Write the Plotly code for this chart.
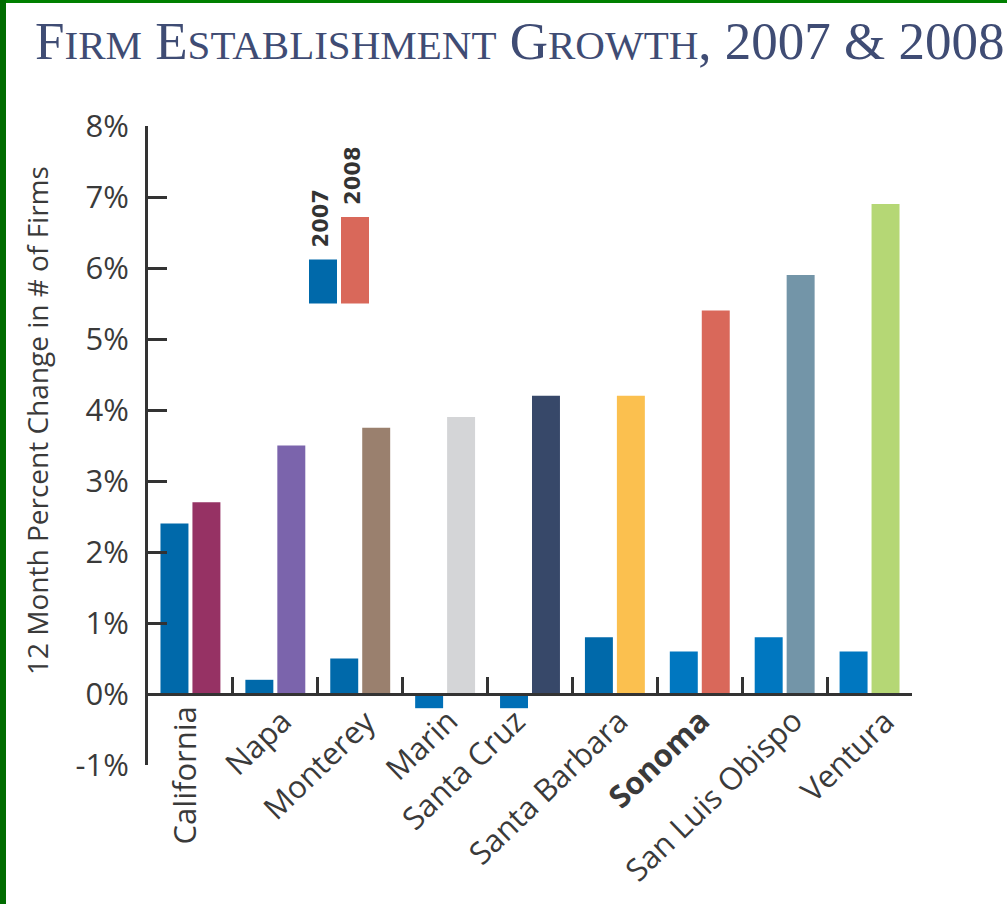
import plotly.graph_objects as go

# ---------------- data ----------------
counties = ["California", "Napa", "Monterey", "Marin", "Santa Cruz",
            "Santa Barbara", "Sonoma", "San Luis Obispo", "Ventura"]
growth_2007 = [2.4, 0.2, 0.5, -0.2, -0.2, 0.8, 0.6, 0.8, 0.6]
growth_2008 = [2.7, 3.5, 3.75, 3.9, 4.2, 4.2, 5.4, 5.9, 6.9]
colors_2007 = ["#0069aa", "#0069aa", "#0069aa", "#006fb6", "#006fb6",
               "#0069aa", "#0077c0", "#0077c0", "#0077c0"]
colors_2008 = ["#963264", "#7b64ac", "#9a806e", "#d4d5d7", "#374869",
               "#fbc04f", "#d9685a", "#7395a8", "#b5d775"]
y_ticks = [-1, 0, 1, 2, 3, 4, 5, 6, 7, 8]
y_ticktext = [f"{v}%" for v in y_ticks]
legend_years = ["2007", "2008"]
legend_values = [6.12, 6.72]      # swatch tops (key, not data)
legend_base = 5.5
title_text = "Firm Establishment Growth, 2007 & 2008"
y_title = "12 Month Percent Change in # of Firms"

# ---------------- layout constants ----------------
W, H = 1007, 904
ML, MR, MT, MB = 148, 95, 126, 139
PW, PH = W - ML - MR, H - MT - MB
TXT = "#3a3a3a"
AX = "#333333"
# small per-label nudges of the slanted category labels (pixels)
label_nudge = {"Napa": -3, "Monterey": -4, "Marin": -6, "Santa Cruz": -24,
               "Santa Barbara": -5, "Sonoma": -9, "San Luis Obispo": -2, "Ventura": 6}


def px_to_paper_x(px):
    return (px - ML) / PW


def px_to_paper_y(py):
    return (H - MB - py) / PH


def small_caps(s, small=41):
    out = []
    for ch in s:
        if ch.islower():
            out.append(f'<span style="font-size:{small}px">{ch.upper()}</span>')
        else:
            out.append(ch)
    return "".join(out)


fig = go.Figure()
fig.add_trace(go.Bar(x=counties, y=growth_2007, name="2007",
                     marker=dict(color=colors_2007, line=dict(width=0))))
fig.add_trace(go.Bar(x=counties, y=growth_2008, name="2008",
                     marker=dict(color=colors_2008, line=dict(width=0))))

annotations = []
# x category labels
for i, c in enumerate(counties):
    label = f"<b>{c}</b>" if c == "Sonoma" else c
    if i == 0:
        annotations.append(dict(x=c, y=0, xref="x", yref="y", text=label,
                                textangle=-90, xanchor="center", yanchor="top",
                                xshift=-6, yshift=-10, showarrow=False,
                                font=dict(family="Open Sans", size=31, color=TXT)))
    else:
        annotations.append(dict(x=c, y=0, xref="x", yref="y", text=label,
                                textangle=-44, xanchor="right", yanchor="top",
                                xshift=30 + label_nudge.get(c, 0), yshift=-3, showarrow=False,
                                font=dict(family="Open Sans", size=31, color=TXT)))

# y title
annotations.append(dict(x=px_to_paper_x(37), y=px_to_paper_y(421), xref="paper", yref="paper",
                        text=y_title, textangle=-90, showarrow=False,
                        xanchor="center", yanchor="middle",
                        font=dict(family="Open Sans", size=28, color=TXT)))

# legend key
key_x = [(309, 337), (341, 369)]
key_cols = ["#0069aa", "#d9685a"]
shapes = []
for (x0, x1), top, col, yr in zip(key_x, legend_values, key_cols, legend_years):
    shapes.append(dict(type="rect", xref="paper", yref="y",
                       x0=px_to_paper_x(x0), x1=px_to_paper_x(x1),
                       y0=legend_base, y1=top, fillcolor=col, line=dict(width=0)))
    annotations.append(dict(x=px_to_paper_x((x0 + x1) / 2 - 2), y=top, xref="paper", yref="y",
                            text=f"<b>{yr}</b>", textangle=-90, showarrow=False,
                            xanchor="center", yanchor="bottom", yshift=10,
                            font=dict(family="DejaVu Sans", size=21, color="#333333")))

# green frame (top and left)
shapes.append(dict(type="rect", xref="paper", yref="paper", layer="above",
                   x0=px_to_paper_x(0), x1=px_to_paper_x(W), y0=px_to_paper_y(3), y1=px_to_paper_y(0),
                   fillcolor="#008000", line=dict(width=0)))
shapes.append(dict(type="rect", xref="paper", yref="paper", layer="above",
                   x0=px_to_paper_x(0), x1=px_to_paper_x(6), y0=px_to_paper_y(H), y1=px_to_paper_y(0),
                   fillcolor="#006c00", line=dict(width=0)))

fig.update_layout(
    width=W, height=H,
    margin=dict(l=ML, r=MR, t=MT, b=MB, pad=0),
    paper_bgcolor="white", plot_bgcolor="white",
    showlegend=False,
    barmode="group", bargap=0.247, bargroupgap=0.125,
    title=dict(text=small_caps(title_text), xref="container", yref="container",
               x=35 / W, xanchor="left", y=1 - 40 / H, yanchor="middle",
               font=dict(family="Liberation Serif", size=53, color="#3f4c74")),
    annotations=annotations,
    shapes=shapes,
    xaxis=dict(type="category", range=[-0.5, len(counties) - 0.5],
               anchor="free", position=1 / 9,
               showline=True, linecolor=AX, linewidth=3,
               ticks="inside", tickson="boundaries", ticklen=16, tickwidth=3, tickcolor=AX,
               showticklabels=False, showgrid=False, zeroline=False, fixedrange=True),
    yaxis=dict(range=[-1, 8], tickvals=y_ticks, ticktext=y_ticktext,
               showline=True, linecolor=AX, linewidth=3,
               ticks="inside", ticklen=19, tickwidth=3, tickcolor=AX,
               ticklabelstandoff=10,
               tickfont=dict(family="Open Sans", size=31, color=TXT),
               showgrid=False, zeroline=False, fixedrange=True),
)

fig.write_html("out.html", config={"displayModeBar": False},
               post_script="document.body.style.margin='0';document.body.style.overflow='hidden';")
